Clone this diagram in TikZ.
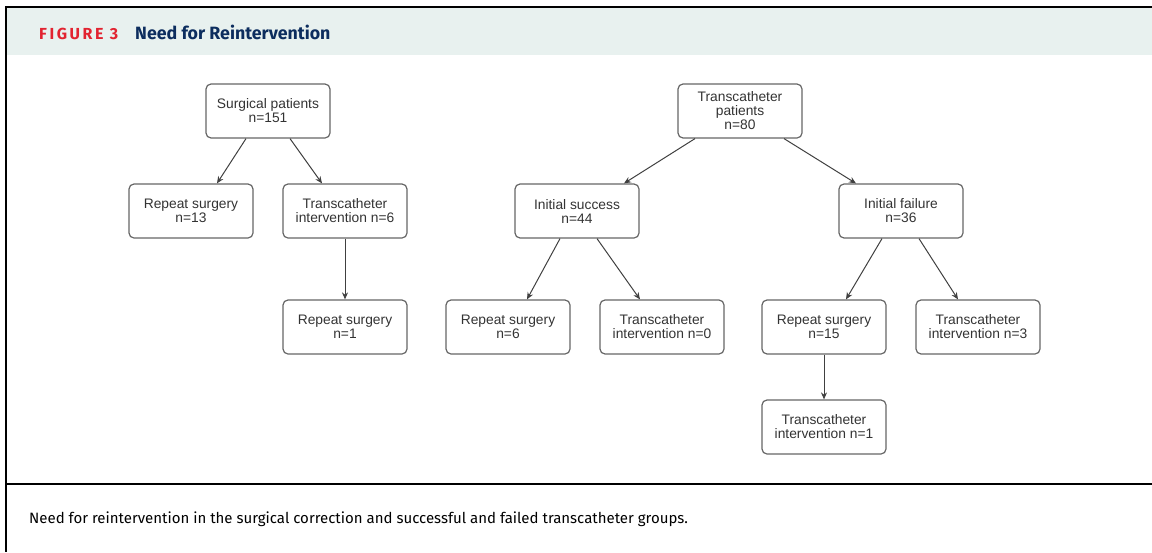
\documentclass[tikz,border=0pt]{standalone}
\usepackage{fontspec}
\usetikzlibrary{arrows.meta}
\newfontfamily\diagfont{Liberation Sans}
\newfontfamily\capfont{Fira Sans}
\definecolor{headbg}{RGB}{232,241,239}
\definecolor{figred}{RGB}{226,35,48}
\definecolor{navy}{RGB}{12,45,94}
\tikzset{
  box/.style={draw=black!60, rounded corners=5pt, line width=1.2pt,
    minimum width=124pt, minimum height=54pt, inner sep=0pt, align=center,
    font=\diagfont\fontsize{13.8}{14}\selectfont, text=black!80},
  arr/.style={draw=black!75, line width=1pt, -{Stealth[length=7pt,width=6pt]}},
  frame/.style={line width=1.5pt, black}
}
\begin{document}
\begin{tikzpicture}[x=1pt,y=-1pt]
    \useasboundingbox (0,0) rectangle (1152,552);
    \fill[headbg] (6,7) rectangle (1152,55);
    \draw[frame] (1152,7)--(6,7)--(6,552);
    \draw[frame] (6,484)--(1152,484);
    \node[anchor=base west, inner sep=0pt, font=\capfont\bfseries\addfontfeature{LetterSpace=16}\fontsize{16}{16}\selectfont, text=figred] (fig) at (39,39) {FIGURE 3};
    \node[anchor=base west, inner sep=0pt, font=\capfont\bfseries\fontsize{17.8}{18}\selectfont, text=navy] (title) at (135,39) {Need for Reintervention};
    \node[anchor=base west, inner sep=0pt, font=\capfont\fontsize{15}{15}\selectfont] (caption) at (29,523) {Need for reintervention in the surgical correction and successful and failed transcatheter groups.};
    % surgical branch
    \node[box] (sp) at (268,111) {Surgical patients\\n=151};
    \node[box] (rs13) at (191,211) {Repeat surgery\\n=13};
    \node[box] (ti6) at (345,211) {Transcatheter\\intervention n=6};
    \node[box] (rs1) at (345,327) {Repeat surgery\\n=1};
    % transcatheter branch
    \node[box] (tp) at (740,111) {Transcatheter\\patients\\n=80};
    \node[box] (is44) at (577,211) {Initial success\\n=44};
    \node[box] (if36) at (901,211) {Initial failure\\n=36};
    \node[box] (rs6) at (508,327) {Repeat surgery\\n=6};
    \node[box] (ti0) at (662,327) {Transcatheter\\intervention n=0};
    \node[box] (rs15) at (824,327) {Repeat surgery\\n=15};
    \node[box] (ti3) at (978,327) {Transcatheter\\intervention n=3};
    \node[box] (ti1) at (824,427) {Transcatheter\\intervention n=1};
    \draw[arr] ([xshift=-22pt]sp.south)--([xshift=26pt]rs13.north);
    \draw[arr] ([xshift=22pt]sp.south)--([xshift=-23pt]ti6.north);
    \draw[arr] (ti6.south)--(rs1.north);
    \draw[arr] ([xshift=-45pt]tp.south)--([xshift=47pt]is44.north);
    \draw[arr] ([xshift=44pt]tp.south)--([xshift=-45pt]if36.north);
    \draw[arr] ([xshift=-17pt]is44.south)--([xshift=19pt]rs6.north);
    \draw[arr] ([xshift=20pt]is44.south)--([xshift=-22pt]ti0.north);
    \draw[arr] ([xshift=-19pt]if36.south)--([xshift=22pt]rs15.north);
    \draw[arr] ([xshift=18pt]if36.south)--([xshift=-20pt]ti3.north);
    \draw[arr] (rs15.south)--(ti1.north);
\end{tikzpicture}
\end{document}
